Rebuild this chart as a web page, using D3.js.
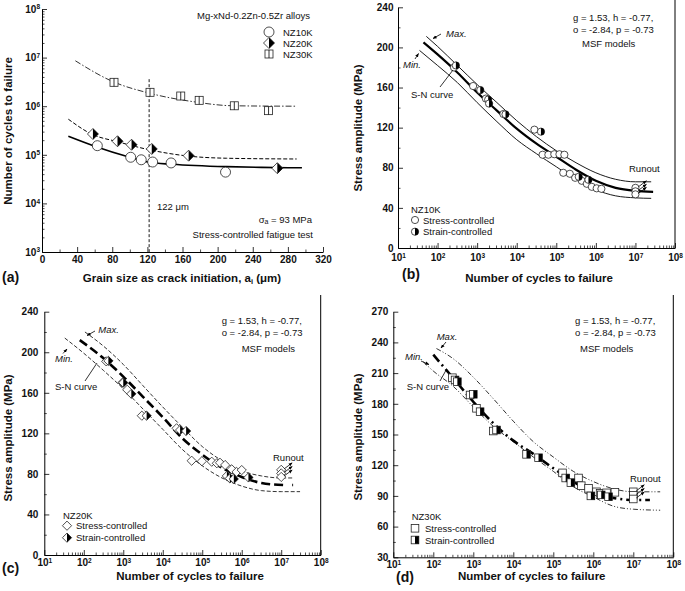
<!DOCTYPE html>
<html><head><meta charset="utf-8">
<script src="https://cdn.jsdelivr.net/npm/d3@7/dist/d3.min.js"></script>
<style>
body{margin:0;background:#fff}
svg{display:block}
text{font-family:"Liberation Sans",Arial,Helvetica,sans-serif;fill:#111}
</style>
</head><body>
<svg id="fig" width="685" height="591"></svg>
<script>
// ================= DATA =================
// Panel (a): grain size (um) vs cycles to failure
const aXTicks = [0,40,80,120,160,200,240,280,320];
const aXMinor = [20,60,100,140,180,220,260,300];
const aYTicks = [1e3,1e4,1e5,1e6,1e7,1e8];
const aNZ10K_x = [63,101,113,126,147,209];
const aNZ10K_N = [1.54e5,8.9e4,7.9e4,7.1e4,6.8e4,4.4e4];
const aNZ20K_x = [58,86,102,125,167,268];
const aNZ20K_N = [2.68e5,1.9e5,1.61e5,1.32e5,9.6e4,5.3e4];
const aNZ30K_x = [82,123,158,179,219,258];
const aNZ30K_N = [3.1e6,1.93e6,1.62e6,1.32e6,1.02e6,8.1e5];
const aFit10K = [[30,2.4e5],[60,1.5e5],[100,8.9e4],[122,7.0e4],[148,6.4e4],[210,5.7e4],[250,5.5e4],[296,5.4e4]];
const aFit20K = [[30,5.4e5],[57,2.64e5],[86,1.86e5],[123,1.26e5],[167,9.4e4],[210,8.5e4],[290,8.2e4]];
const aFit30K = [[38,8.6e6],[81,3.19e6],[123,1.84e6],[172,1.24e6],[218,1.02e6],[290,1.0e6]];
const aMarkGrain = 122, aMarkTop = 3.6e6;

// Panels (b)-(d): cycles to failure vs stress amplitude
const logTicks = [1e1,1e2,1e3,1e4,1e5,1e6,1e7,1e8];
const bcYTicks = [0,40,80,120,160,200,240];
const bcYMinor = [20,60,100,140,180,220];
const dYTicks = [30,60,90,120,150,180,210,240,270];
const dYMinor = [45,75,105,135,165,195,225,255];

// (b) NZ10K
const bStressN = [2.6e2,7.9e2,1.66e3,4.6e3,2.8e4,4.5e4,6.3e4,8.9e4,1.2e5,1.6e5,1.5e5,2.2e5,3.0e5,4.4e5,5.9e5,7.9e5,1.05e6,1.38e6];
const bStressS = [180,161.5,149,133.6,118,93,93,93.5,93.5,93,75,74,70,67,64,61,59.5,59];
const bStrainN = [2.9e2,1.2e3,1.9e3,2.0e3,5.2e3,4.1e4,3.7e5,6.5e5];
const bStrainS = [182,157.5,148,144,133.3,116,71,68];
const bRunoutN = [1e7,1e7,1e7];
const bRunoutS = [60,56.5,53.5];
const bSN  = [[44,205],[100,193],[316,175],[1e3,155],[3.16e3,137],[1e4,119],[3.16e4,104],[1e5,91],[3.16e5,78],[1e6,67],[3.16e6,60],[1e7,57],[2.8e7,56]];
const bMax = [[52,211],[100,201],[316,182],[1e3,163],[3.16e3,145],[1e4,127],[3.16e4,111],[1e5,97],[3.16e5,85],[1e6,75],[3.16e6,68.5],[1e7,66],[2.5e7,66]];
const bMin = [[35,197],[100,182],[316,165],[1e3,145],[3.16e3,126],[1e4,108],[3.16e4,94],[1e5,81],[3.16e5,68],[1e6,58],[3.16e6,52],[1e7,50],[2.5e7,49.5]];

// (c) NZ20K
const cStressN = [3.7e2,9.5e2,1.26e3,2.95e3,2.24e4,5.4e4,9.8e4,1.74e5,2.34e5,2.82e5,3.8e5,5.6e5,7.4e5,1.0e6];
const cStressS = [191,170,163,137.4,125,93,92.5,92,90.5,91,88.8,84.5,82,83.8];
const cStrainN = [4.2e2,1.0e3,1.6e3,3.9e3,2.75e4,3.9e4,4.2e5,5.0e5,6.3e5,1.48e6];
const cStrainS = [191.5,170,159,137.4,123.3,122.3,78,75.6,75,76.5];
const cRunoutN = [1e7,1e7,1e7];
const cRunoutS = [84,80.5,77];
const cSN  = [[79,212],[316,194],[1e3,176],[3.16e3,156],[1e4,136],[3.16e4,115],[1e5,99],[3.16e5,86],[1e6,77],[3.16e6,71],[1.12e7,69]];
const cSNdot = [[1.9e7,69],[2.0e7,69]];
const cMax = [[107,220],[316,206],[1e3,188],[3.16e3,167],[1e4,146],[3.16e4,126],[1e5,107],[3.16e5,93],[1e6,83],[3.16e6,78],[1e7,76],[2.1e7,76]];
const cMin = [[33,214],[100,199],[316,182],[1e3,164],[3.16e3,144],[1e4,124],[3.16e4,104],[1e5,88],[3.16e5,76],[1e6,68],[3.16e6,63.5],[1e7,62.5],[3e7,62.5]];

// (d) NZ30K
const dStressN = [3.0e2,8.3e2,1.2e3,3.16e3,1.7e5,4.27e5,5.0e5,7.6e5,1.2e6,1.48e6,2.14e6,3.47e6];
const dStressS = [205.5,188.6,175.6,153.4,112.5,107.5,100,97.4,94,92.5,93,93.5];
const dStrainN = [3.5e2,4.0e2,1.0e3,1.48e3,3.8e3,2.14e4,4.27e4,2.04e5,2.75e5,8.7e5,1.58e6,2.4e6];
const dStrainS = [203.3,201.6,189.3,172.3,154.4,130.6,127.3,107.5,103,90,91,89.2];
const dRunoutN = [1e7,1e7,1e7];
const dRunoutS = [94,90.5,87];
const dSN  = [[100,228],[316,205],[1e3,182],[3.16e3,161],[1e4,144],[3.16e4,131],[1e5,117],[3.16e5,104],[1e6,93],[3.16e6,88],[1e7,86],[2.6e7,86]];
const dMax = [[120,234],[316,224],[1e3,206],[3.16e3,185],[1e4,163],[3.16e4,143],[1e5,128],[3.16e5,114],[1e6,104],[3.16e6,97],[1e7,94],[4.7e7,94]];
const dMin = [[56,221],[100,212],[316,197],[1e3,177],[3.16e3,158],[1e4,143],[3.16e4,128],[1e5,114],[3.16e5,99],[1e6,89],[3.16e6,80],[1e7,77],[4.7e7,76]];

// ================= DRAWING =================
const svg = d3.select("#fig");
const defs = svg.append("defs");
defs.append("marker").attr("id","ah").attr("viewBox","0 0 10 10")
  .attr("refX",9).attr("refY",5).attr("markerWidth",5).attr("markerHeight",5)
  .attr("orient","auto").append("path").attr("d","M0,1L10,5L0,9z").attr("fill","#000");

function txt(x,y,s,o={}){
  const t=svg.append("text").attr("x",x).attr("y",y).text(s)
    .attr("font-size",o.size||9.5).attr("text-anchor",o.anchor||"start");
  if(o.bold) t.attr("font-weight","bold");
  if(o.italic) t.attr("font-style","italic");
  return t;
}
function arrow(x1,y1,x2,y2,w){
  svg.append("line").attr("x1",x1).attr("y1",y1).attr("x2",x2).attr("y2",y2)
    .attr("stroke","#000").attr("stroke-width",w||0.8).attr("marker-end","url(#ah)");
}
function seg(x1,y1,x2,y2){
  svg.append("line").attr("x1",x1).attr("y1",y1).attr("x2",x2).attr("y2",y2)
    .attr("stroke","#000").attr("stroke-width",0.8);
}
function supLabels(g){
  g.selectAll(".tick text").each(function(d){
    const t=d3.select(this); t.text(null);
    t.append("tspan").text("10");
    t.append("tspan").attr("dy","-0.5em").attr("font-size","6.5px").text(Math.round(Math.log10(d)));
  });
}
function logMinor(lo,hi){
  const out=[];
  for(let e=Math.round(Math.log10(lo)); e<Math.round(Math.log10(hi)); e++)
    for(let m=2;m<10;m++) out.push(m*Math.pow(10,e));
  return out;
}
function styleAxis(g){
  g.select(".domain").attr("stroke","#000").attr("stroke-width",1);
  g.selectAll(".tick line").attr("stroke","#000").attr("stroke-width",0.8);
  g.selectAll(".tick text").attr("font-size","10px").attr("font-weight","bold")
    .attr("font-family",'"Liberation Sans",Arial,sans-serif').attr("fill","#111");
}
function xAxis(x,y0,major,minor,isLog,pad){
  const g=svg.append("g").attr("transform",`translate(0,${y0})`);
  g.call(d3.axisBottom(x).tickValues(major).tickSize(-5).tickSizeOuter(0).tickPadding(pad)
    .tickFormat(isLog?null:d3.format("d")));
  styleAxis(g);
  if(isLog) supLabels(g);
  const m=svg.append("g").attr("transform",`translate(0,${y0})`);
  m.call(d3.axisBottom(x).tickValues(minor).tickSize(-2.5).tickSizeOuter(0).tickFormat(""));
  m.select(".domain").remove(); m.selectAll(".tick line").attr("stroke","#000").attr("stroke-width",0.7);
}
function yAxis(y,x0,major,minor,isLog,pad){
  const g=svg.append("g").attr("transform",`translate(${x0},0)`);
  g.call(d3.axisLeft(y).tickValues(major).tickSize(-5).tickSizeOuter(0).tickPadding(pad)
    .tickFormat(isLog?null:d3.format("d")));
  styleAxis(g);
  if(isLog) supLabels(g);
  const m=svg.append("g").attr("transform",`translate(${x0},0)`);
  m.call(d3.axisLeft(y).tickValues(minor).tickSize(-2.5).tickSizeOuter(0).tickFormat(""));
  m.select(".domain").remove(); m.selectAll(".tick line").attr("stroke","#000").attr("stroke-width",0.7);
}
function curve(pts,x,y,w,dash,color){
  const p=svg.append("path").datum(pts)
    .attr("d",d3.line().x(d=>x(d[0])).y(d=>y(d[1])).curve(d3.curveMonotoneX))
    .attr("fill","none").attr("stroke",color||"#000").attr("stroke-width",w);
  if(dash) p.attr("stroke-dasharray",dash);
}
// markers
const MS="#222";
function mCircle(cx,cy,r,half){
  svg.append("circle").attr("cx",cx).attr("cy",cy).attr("r",r).attr("fill","#fff").attr("stroke",MS).attr("stroke-width",0.8);
  if(half) svg.append("path").attr("d",`M${cx},${cy-r}A${r},${r} 0 0 1 ${cx},${cy+r}Z`).attr("fill","#000");
}
function mDiamond(cx,cy,r,half){
  svg.append("path").attr("d",`M${cx},${cy-r}L${cx+r},${cy}L${cx},${cy+r}L${cx-r},${cy}Z`)
    .attr("fill","#fff").attr("stroke",MS).attr("stroke-width",0.8);
  if(half) svg.append("path").attr("d",`M${cx},${cy-r}L${cx+r},${cy}L${cx},${cy+r}Z`).attr("fill","#000");
}
function mSquare(cx,cy,h,half,split){
  svg.append("rect").attr("x",cx-h).attr("y",cy-h).attr("width",2*h).attr("height",2*h)
    .attr("fill","#fff").attr("stroke",MS).attr("stroke-width",0.8);
  if(half) svg.append("rect").attr("x",cx).attr("y",cy-h).attr("width",h).attr("height",2*h).attr("fill","#000");
  if(split){ seg(cx,cy-h,cx,cy+h); }
}
function plotPts(xs,ys,x,y,fn){ xs.forEach((v,i)=>fn(x(v),y(ys[i]))); }
function rightBorder(xp,y1,y2){
  svg.append("line").attr("x1",xp).attr("x2",xp).attr("y1",y1).attr("y2",y2).attr("stroke","#000").attr("stroke-width",1);
}
function yTitle(cx,cy,s){
  svg.append("text").attr("transform",`translate(${cx},${cy}) rotate(-90)`).attr("text-anchor","middle")
    .attr("font-size",11.5).attr("font-weight","bold").text(s);
}
function coefs(x0,y0){
  txt(x0,y0,"g = 1.53, h = -0.77,");
  txt(x0,y0+12,"o = -2.84, p = -0.73");
}

// ---------- Panel (a) ----------
{
  const x=d3.scaleLinear().domain([0,320]).range([42,323]);
  const y=d3.scaleLog().domain([1e3,1e8]).range([252,9]);
  xAxis(x,252,aXTicks,aXMinor,false,4);
  yAxis(y,42,aYTicks,logMinor(1e3,1e8),true,2);
  curve(aFit10K,x,y,1.6,null);
  curve(aFit20K,x,y,1,"4,2");
  curve(aFit30K,x,y,1,"6,2,1.5,2","#333");
  svg.append("line").attr("x1",x(aMarkGrain)).attr("x2",x(aMarkGrain)).attr("y1",y(aMarkTop)).attr("y2",y(1e3))
    .attr("stroke","#000").attr("stroke-width",0.9).attr("stroke-dasharray","3,2");
  plotPts(aNZ10K_x,aNZ10K_N,x,y,(a,b)=>mCircle(a,b,5,false));
  plotPts(aNZ20K_x,aNZ20K_N,x,y,(a,b)=>mDiamond(a,b,5.5,true));
  plotPts(aNZ30K_x,aNZ30K_N,x,y,(a,b)=>mSquare(a,b,4,false,true));
  txt(197,18.5,"Mg-xNd-0.2Zn-0.5Zr alloys");
  mCircle(269,32,5,false); txt(283,35.5,"NZ10K");
  mDiamond(269,43,5.5,true); txt(283,46.5,"NZ20K");
  mSquare(269,54,4,false,true); txt(283,57.5,"NZ30K");
  const t1=txt(157,209.5,"122 "); t1.append("tspan").text("μm");
  const t2=txt(312,222.5,"σ",{anchor:"end"}); t2.append("tspan").attr("font-size","7px").attr("dy","1.5").text("a");
  t2.append("tspan").attr("dy","-1.5").text(" = 93 MPa");
  txt(313,237.5,"Stress-controlled fatigue test",{anchor:"end"});
  const xt=txt(182,281.5,"Grain size as crack initiation, a",{bold:true,size:11.5,anchor:"middle"});
  xt.append("tspan").attr("font-size","7.5px").attr("dy","2").text("i");
  xt.append("tspan").attr("dy","-2").text(" (μm)");
  yTitle(12,131,"Number of cycles to failure");
  txt(2,282,"(a)",{bold:true,size:14});
}

// ---------- Panel (b) ----------
{
  const x=d3.scaleLog().domain([10,1e8]).range([398,675]);
  const y=d3.scaleLinear().domain([0,240]).range([248,7.3]);
  xAxis(x,248,logTicks,logMinor(10,1e8),true,6);
  yAxis(y,398,bcYTicks,bcYMinor,false,4.5);
  rightBorder(675,0,248);
  curve(bMax,x,y,0.9,null);
  curve(bMin,x,y,0.9,null);
  curve(bSN,x,y,2.2,null);
  plotPts(bStressN,bStressS,x,y,(a,b)=>mCircle(a,b,3.6,false));
  plotPts(bStrainN,bStrainS,x,y,(a,b)=>mCircle(a,b,3.6,true));
  plotPts(bRunoutN,bRunoutS,x,y,(a,b)=>{mCircle(a,b,3.6,false);});
  plotPts(bRunoutN,bRunoutS,x,y,(a,b)=>arrow(a+3,b-1,a+11,b-7));
  coefs(573,20.5);
  txt(582,46.5,"MSF models");
  txt(446,37,"Max.",{italic:true}); arrow(441,34,433,38.5);
  txt(403,67.5,"Min.",{italic:true}); arrow(415,59,418.5,53.5);
  txt(411,98,"S-N curve"); seg(440,87,453,70);
  txt(629,171.5,"Runout");
  txt(411,212.5,"NZ10K");
  mCircle(415,220,3.6,false); txt(423,223.5,"Stress-controlled");
  mCircle(415,231.7,3.6,true); txt(423,235,"Strain-controlled");
  txt(539,282,"Number of cycles to failure",{bold:true,size:11.5,anchor:"middle"});
  yTitle(362,128,"Stress amplitude (MPa)");
  txt(402,279,"(b)",{bold:true,size:14});
}

// ---------- Panel (c) ----------
{
  const x=d3.scaleLog().domain([10,1e8]).range([44.3,320.7]);
  const y=d3.scaleLinear().domain([0,240]).range([555,311.7]);
  xAxis(x,555,logTicks,logMinor(10,1e8),true,4);
  yAxis(y,44.3,bcYTicks,bcYMinor,false,6);
  rightBorder(320.7,295,555);
  curve(cMax,x,y,0.8,"4,2");
  curve(cMin,x,y,0.8,"4,2");
  curve(cSN,x,y,2.6,"9,4");
  curve(cSNdot,x,y,2.6,null);
  plotPts(cStressN,cStressS,x,y,(a,b)=>mDiamond(a,b,4.6,false));
  plotPts(cStrainN,cStrainS,x,y,(a,b)=>mDiamond(a,b,4.6,true));
  plotPts(cRunoutN,cRunoutS,x,y,(a,b)=>mDiamond(a,b,4.6,false));
  plotPts(cRunoutN,cRunoutS,x,y,(a,b)=>arrow(a+3,b-1,a+11,b-7));
  coefs(221.7,323.5);
  txt(241.7,351.5,"MSF models");
  txt(98.3,333,"Max.",{italic:true}); arrow(95,331,87,335.5);
  txt(55,362,"Min.",{italic:true}); arrow(63,353.5,67,349);
  txt(55,390,"S-N curve"); seg(85,381,97,363);
  txt(273,461,"Runout");
  txt(63,518.5,"NZ20K");
  mDiamond(67,525.7,4.6,false); txt(76,529,"Stress-controlled");
  mDiamond(67,537.7,4.6,true); txt(76,541,"Strain-controlled");
  txt(190,580,"Number of cycles to failure",{bold:true,size:11.5,anchor:"middle"});
  yTitle(12,438,"Stress amplitude (MPa)");
  txt(2,573,"(c)",{bold:true,size:14});
}

// ---------- Panel (d) ----------
{
  const x=d3.scaleLog().domain([10,1e8]).range([393.3,673.3]);
  const y=d3.scaleLinear().domain([30,270]).range([557.3,311.7]);
  xAxis(x,557.3,logTicks,logMinor(10,1e8),true,3.5);
  yAxis(y,393.3,dYTicks,dYMinor,false,5);
  rightBorder(673.3,295,557.3);
  curve(dMax,x,y,0.8,"5,2,1,2,1,2");
  curve(dMin,x,y,0.8,"5,2,1,2,1,2");
  curve(dSN,x,y,2.6,"9,4,2,4");
  plotPts(dStressN,dStressS,x,y,(a,b)=>mSquare(a,b,3.8,false,false));
  plotPts(dStrainN,dStrainS,x,y,(a,b)=>mSquare(a,b,3.8,true,false));
  plotPts(dRunoutN,dRunoutS,x,y,(a,b)=>mSquare(a,b,3.8,false,false));
  plotPts(dRunoutN,dRunoutS,x,y,(a,b)=>arrow(a+3,b-1,a+11,b-7));
  coefs(575,323.5);
  txt(580,351.5,"MSF models");
  txt(436.7,340,"Max.",{italic:true}); arrow(446,342,441,348);
  txt(405,360,"Min.",{italic:true}); arrow(421,361,429,364.5);
  txt(406.7,390,"S-N curve"); seg(440,381,446.7,369);
  txt(630,481.5,"Runout");
  txt(411.7,520,"NZ30K");
  mSquare(415,528.3,3.8,false,false); txt(425,531.5,"Stress-controlled");
  mSquare(415,540,3.8,true,false); txt(425,543.5,"Strain-controlled");
  txt(531.7,580,"Number of cycles to failure",{bold:true,size:11.5,anchor:"middle"});
  yTitle(362,437,"Stress amplitude (MPa)");
  txt(396,582,"(d)",{bold:true,size:14});
}
</script>
</body></html>
